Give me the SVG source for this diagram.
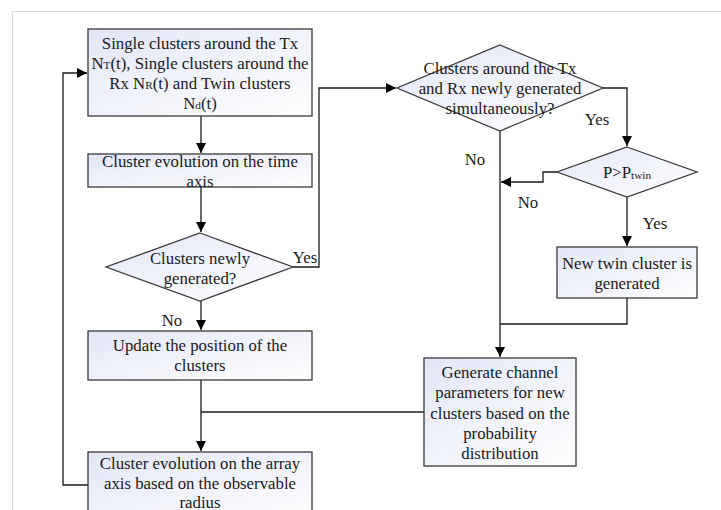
<svg xmlns="http://www.w3.org/2000/svg" width="721" height="510" viewBox="0 0 721 510">
<defs>
<linearGradient id="g" x1="0" y1="0" x2="1" y2="1">
<stop offset="0" stop-color="#e3e6f6"/>
<stop offset="1" stop-color="#ffffff"/>
</linearGradient>
<marker id="arr" viewBox="0 0 10 10" refX="10" refY="5" markerWidth="10" markerHeight="10" markerUnits="userSpaceOnUse" orient="auto">
<path d="M0,0 L10,5 L0,10 z" fill="#000"/>
</marker>
<style>
.n{fill:url(#g);stroke:#3a3a3a;stroke-width:1.3}
.t{font-family:"Liberation Serif","Times New Roman",serif;font-size:16.8px;fill:#1a1a1a;text-anchor:middle}
.c{fill:none;stroke:#1a1a1a;stroke-width:1.3}
.s{font-size:11.3px}
</style>
</defs>
<rect width="721" height="510" fill="#fff"/>
<path d="M12.5,510 V11.5 H721" fill="none" stroke="#dcdcdc" stroke-width="1.2"/>

<g id="connectors">
<path class="c" d="M201,116 V153" marker-end="url(#arr)"/>
<path class="c" d="M201,187 V232" marker-end="url(#arr)"/>
<path class="c" d="M201,301 V330" marker-end="url(#arr)"/>
<path class="c" d="M201,380 V451" marker-end="url(#arr)"/>
<path class="c" d="M424,412 H201"/>
<path class="c" d="M88,485 H63 V73 H87" marker-end="url(#arr)"/>
<path class="c" d="M293,267 H319 V88 H396" marker-end="url(#arr)"/>
<path class="c" d="M603,88 H627 V146" marker-end="url(#arr)"/>
<path class="c" d="M500,131 V357" marker-end="url(#arr)"/>
<path class="c" d="M557,172 H543 V182 H501" marker-end="url(#arr)"/>
<path class="c" d="M627,197 V246" marker-end="url(#arr)"/>
<path class="c" d="M627,298 V324 H500"/>
<text class="t" x="305" y="263">Yes</text>
<text class="t" x="172" y="325.5">No</text>
<text class="t" x="597" y="124.5">Yes</text>
<text class="t" x="475" y="164.5">No</text>
<text class="t" x="528" y="207.5">No</text>
<text class="t" x="655" y="228.5">Yes</text>
</g>

<g id="n1">
<rect class="n" x="88" y="29" width="224" height="87"/>
<text class="t" x="200" y="49">Single clusters around the Tx</text>
<text class="t" x="200" y="69">N<tspan class="s">T</tspan>(t), Single clusters around the</text>
<text class="t" x="200" y="89">Rx N<tspan class="s">R</tspan>(t) and Twin clusters</text>
<text class="t" x="200" y="109">N<tspan class="s">d</tspan>(t)</text>
</g>

<g id="n2">
<rect class="n" x="88" y="154" width="224" height="33"/>
<text class="t" x="200" y="167">Cluster evolution on the time</text>
<text class="t" x="200" y="187">axis</text>
</g>

<g id="d1">
<polygon class="n" points="200,233 293,267 200,301 106,267"/>
<text class="t" x="200" y="264">Clusters newly</text>
<text class="t" x="200" y="284">generated?</text>
</g>

<g id="n3">
<rect class="n" x="88" y="331" width="224" height="49"/>
<text class="t" x="200" y="351">Update the position of the</text>
<text class="t" x="200" y="371">clusters</text>
</g>

<g id="n4">
<rect class="n" x="88" y="452" width="224" height="70"/>
<text class="t" x="200" y="468.5">Cluster evolution on the array</text>
<text class="t" x="200" y="488.5">axis based on the observable</text>
<text class="t" x="200" y="507.5">radius</text>
</g>

<g id="d2">
<polygon class="n" points="500,45 603,88 500,131 397,88"/>
<text class="t" x="500" y="74">Clusters around the Tx</text>
<text class="t" x="500" y="94">and Rx newly generated</text>
<text class="t" x="500" y="114">simultaneously?</text>
</g>

<g id="d3">
<polygon class="n" points="627,147 697,172 627,197 557,172"/>
<text class="t" x="627" y="178">P&gt;P<tspan class="s" dy="1">twin</tspan></text>
</g>

<g id="n5">
<rect class="n" x="557" y="247" width="140" height="51"/>
<text class="t" x="627" y="269">New twin cluster is</text>
<text class="t" x="627" y="289">generated</text>
</g>

<g id="n6">
<rect class="n" x="424" y="358" width="152" height="108"/>
<text class="t" x="500" y="378">Generate channel</text>
<text class="t" x="500" y="398.3">parameters for new</text>
<text class="t" x="500" y="418.5">clusters based on the</text>
<text class="t" x="500" y="438.8">probability</text>
<text class="t" x="500" y="459">distribution</text>
</g>
</svg>
